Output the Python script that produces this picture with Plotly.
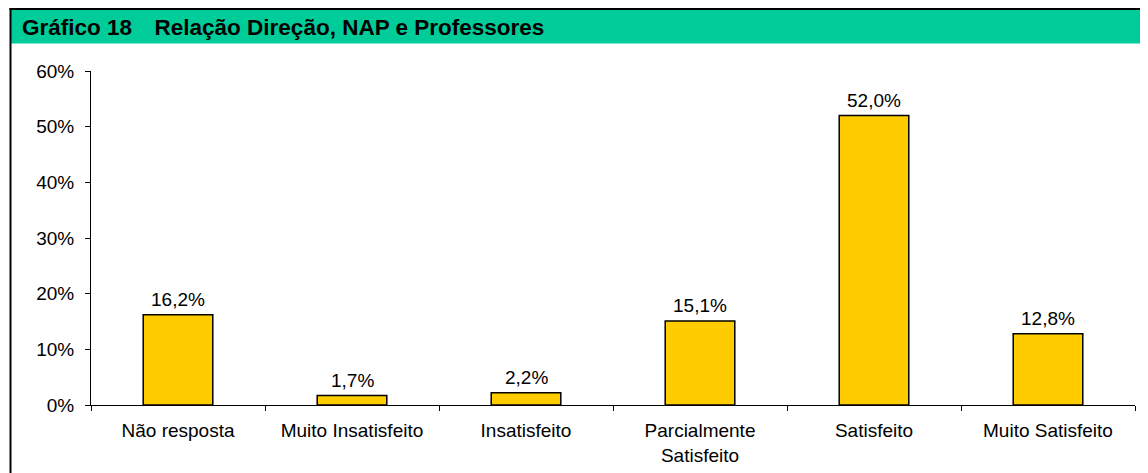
import plotly.graph_objects as go

categories = ["Não resposta", "Muito Insatisfeito", "Insatisfeito",
              "Parcialmente<br>Satisfeito", "Satisfeito", "Muito Satisfeito"]
values = [0.162, 0.017, 0.022, 0.151, 0.520, 0.128]
value_labels = ["16,2%", "1,7%", "2,2%", "15,1%", "52,0%", "12,8%"]
y_ticks = [0, 0.1, 0.2, 0.3, 0.4, 0.5, 0.6]
y_tick_labels = ["0%", "10%", "20%", "30%", "40%", "50%", "60%"]
title_text = "Gráfico 18\u2003Relação Direção, NAP e Professores"

# page body has an 8px margin; figure coordinates are screen - 8
OFF = 8
W, H = 1148 - OFF, 473 - OFF
L, R, T, B = 91 - OFF, 1135 - OFF, 71 - OFF, 405 - OFF  # plot area


def px(x):
    return (x - OFF - L) / (R - L)


def py(y):
    return (B - (y - OFF)) / (B - T)


FONT = "Liberation Sans, Arial, sans-serif"
FS = 19

fig = go.Figure(go.Bar(
    x=categories, y=values, width=0.4,
    marker=dict(color="#FFCC00", line=dict(color="#000000", width=1.5)),
))

annotations = [
    dict(x=c, y=v, text=t, xref="x", yref="y", showarrow=False,
         xanchor="center", yanchor="bottom", yshift=3,
         font=dict(family=FONT, size=FS, color="#000000"))
    for c, v, t in zip(categories, values, value_labels)
]
annotations.append(
    dict(text="<b>" + title_text + "</b>", xref="paper", yref="paper",
         x=px(20), y=py(27), xanchor="left", yanchor="middle",
         showarrow=False, font=dict(family=FONT, size=22.5, color="#000000"))
)

fig.update_layout(
    width=W, height=H,
    margin=dict(l=L, r=W - R, t=T, b=H - B, autoexpand=False),
    paper_bgcolor="white", plot_bgcolor="white",
    showlegend=False,
    font=dict(family=FONT, size=FS, color="#000000"),
    shapes=[
        dict(type="rect", xref="paper", yref="paper",
             x0=px(11), x1=px(1160), y0=py(10), y1=py(43.5),
             fillcolor="#00CC99", line=dict(width=0), layer="below"),
        dict(type="line", xref="paper", yref="paper",
             x0=px(9.5), x1=px(1160), y0=py(9), y1=py(9),
             line=dict(color="black", width=2)),
        dict(type="line", xref="paper", yref="paper",
             x0=px(10.5), x1=px(10.5), y0=py(8), y1=py(490),
             line=dict(color="black", width=2)),
    ],
    annotations=annotations,
)

fig.update_xaxes(
    showline=True, linecolor="black", linewidth=1, automargin=False,
    ticks="outside", ticklen=5, tickcolor="black", tickson="boundaries",
    showgrid=False, ticklabelstandoff=8,
    tickfont=dict(family=FONT, size=FS, color="#000000"),
)
fig.update_yaxes(
    range=[0, 0.6], tickvals=y_ticks, ticktext=y_tick_labels,
    showline=True, linecolor="black", linewidth=1, automargin=False,
    ticks="outside", ticklen=5, tickcolor="black",
    showgrid=False, zeroline=False, ticklabelstandoff=7,
    tickfont=dict(family=FONT, size=FS, color="#000000"),
)

fig.write_html("out.html")
